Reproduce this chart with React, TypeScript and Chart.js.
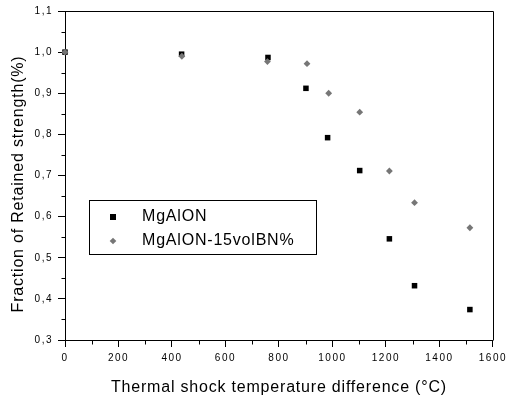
import React, { useEffect, useRef } from "react";
import { Chart, registerables } from "chart.js";

Chart.register(...registerables);

const seriesNames = ["MgAlON", "MgAlON-15volBN%"];
const tempMgAlON = [0, 436, 759, 901, 982, 1102, 1213, 1307, 1514];
const strengthMgAlON = [1.0, 0.995, 0.987, 0.912, 0.792, 0.712, 0.546, 0.432, 0.374];
const tempBN = [0, 437, 757, 905, 986, 1102, 1213, 1307, 1514];
const strengthBN = [1.0, 0.99, 0.977, 0.972, 0.9, 0.854, 0.711, 0.634, 0.573];
const xTitle = "Thermal shock temperature difference (\u00B0C)";
const yTitle = "Fraction of Retained strength(%)";

const FONT = "'Liberation Sans', Arial, sans-serif";
const SQUARE_COLOR = "#000000";
const DIAMOND_COLOR = "#767676";

const framePlugin = {
  id: "frame",
  beforeDraw(chart: any) {
    const ctx = chart.ctx;
    ctx.fillStyle = "#ffffff";
    ctx.fillRect(0, 0, chart.width, chart.height);
    (ctx as any).letterSpacing = "1.5px";
  },
  afterDraw(chart: any) {
    const ctx = chart.ctx;
    const { left, right, top, bottom } = chart.chartArea;
    ctx.save();
    ctx.strokeStyle = "#000";
    ctx.lineWidth = 1;
    ctx.beginPath();
    ctx.moveTo(Math.round(left) + 0.5, Math.round(top) + 0.5);
    ctx.lineTo(Math.round(right) + 0.5, Math.round(top) + 0.5);
    ctx.lineTo(Math.round(right) + 0.5, Math.round(bottom) + 0.5);
    ctx.stroke();

    // minor ticks
    const xs = chart.scales.x;
    const ys = chart.scales.y;
    ctx.beginPath();
    for (let v = 100; v < 1600; v += 200) {
      const px = Math.round(xs.getPixelForValue(v)) + 0.5;
      ctx.moveTo(px, Math.round(bottom) + 0.5);
      ctx.lineTo(px, Math.round(bottom) + 4.5);
    }
    for (let v = 0.35; v < 1.1; v += 0.1) {
      const py = Math.round(ys.getPixelForValue(v)) + 0.5;
      ctx.moveTo(Math.round(left) + 0.5, py);
      ctx.lineTo(Math.round(left) - 3.5, py);
    }
    ctx.stroke();

    // axis titles
    ctx.fillStyle = "#000";
    (ctx as any).letterSpacing = "0.8px";
    ctx.font = `16px ${FONT}`;
    ctx.textAlign = "center";
    ctx.textBaseline = "middle";
    ctx.fillText(xTitle, (left + right) / 2, 388);
    ctx.save();
    ctx.translate(19, 184);
    ctx.rotate(-Math.PI / 2);
    ctx.fillText(yTitle, 0, 0);
    ctx.restore();

    // legend
    ctx.strokeStyle = "#000";
    ctx.strokeRect(89.5, 200.5, 227, 54);
    ctx.textAlign = "left";
    const rows = [217, 241];
    chart.data.datasets.forEach((ds: any, i: number) => {
      const y = rows[i];
      const x = 113;
      ctx.fillStyle = ds.backgroundColor;
      if (ds.pointStyle === "rect") {
        ctx.fillRect(x - 3, y - 3, 6, 6);
      } else {
        ctx.beginPath();
        ctx.moveTo(x - 3.3, y);
        ctx.lineTo(x, y - 3.3);
        ctx.lineTo(x + 3.3, y);
        ctx.lineTo(x, y + 3.3);
        ctx.closePath();
        ctx.fill();
      }
      ctx.fillStyle = "#000";
      ctx.fillText(ds.label, 142, y);
    });
    ctx.restore();
  },
};

export default function App() {
  const ref = useRef<HTMLCanvasElement | null>(null);
  useEffect(() => {
    if (!ref.current) return;
    const toPts = (xs: number[], ys: number[]) => xs.map((x, i) => ({ x, y: ys[i] }));
    const chart = new Chart(ref.current, {
      type: "scatter",
      data: {
        datasets: [
          {
            label: seriesNames[0],
            data: toPts(tempMgAlON, strengthMgAlON),
            pointStyle: "rect",
            pointRadius: 3.9,
            borderWidth: 0,
            backgroundColor: SQUARE_COLOR,
            borderColor: SQUARE_COLOR,
            order: 1,
            clip: false,
          } as any,
          {
            label: seriesNames[1],
            data: toPts(tempBN, strengthBN),
            pointStyle: "rectRot",
            pointRadius: 3.4,
            borderWidth: 0,
            backgroundColor: DIAMOND_COLOR,
            borderColor: DIAMOND_COLOR,
            order: 0,
            clip: false,
          } as any,
        ],
      },
      options: {
        responsive: false,
        animation: false,
        devicePixelRatio: 1,
        layout: { padding: { left: 0, top: 11, right: 13, bottom: 0 } },
        plugins: { legend: { display: false }, tooltip: { enabled: false } },
        scales: {
          x: {
            type: "linear",
            min: 0,
            max: 1600,
            afterFit: (s: any) => {
              s.height = 60;
            },
            ticks: {
              stepSize: 200,
              color: "#000",
              font: { family: FONT, size: 10 },
              padding: 5,
              maxRotation: 0,
              callback: (v: any) => String(Math.round(Number(v))),
            },
            grid: {
              drawOnChartArea: false,
              drawTicks: true,
              tickLength: 7,
              tickColor: "#000",
            },
            border: { display: true, color: "#000", width: 1 },
          },
          y: {
            type: "linear",
            min: 0.3,
            max: 1.1,
            afterFit: (s: any) => {
              s.width = 65;
            },
            ticks: {
              stepSize: 0.1,
              color: "#000",
              font: { family: FONT, size: 10 },
              padding: 5,
              callback: (v: any) => Number(v).toFixed(1).replace(".", ","),
            },
            grid: {
              drawOnChartArea: false,
              drawTicks: true,
              tickLength: 7,
              tickColor: "#000",
            },
            border: { display: true, color: "#000", width: 1 },
          },
        },
      },
      plugins: [framePlugin],
    });
    return () => chart.destroy();
  }, []);
  return (
    <div style={{ position: "absolute", left: 0, top: 0, width: 509, height: 400 }}>
      <canvas ref={ref} width={509} height={400} />
    </div>
  );
}
